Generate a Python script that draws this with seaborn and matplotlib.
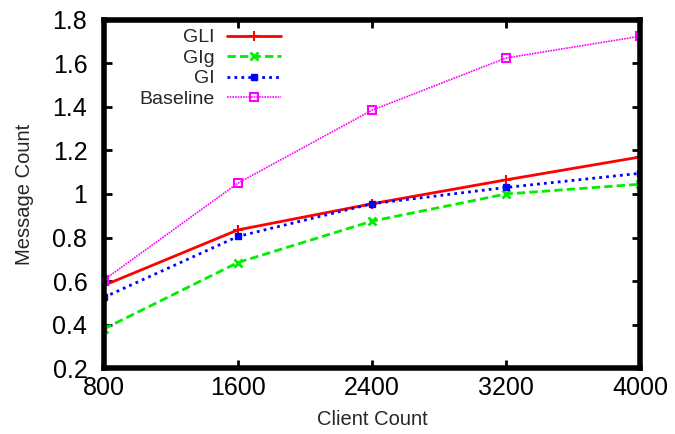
import matplotlib
matplotlib.use("Agg")
import matplotlib.pyplot as plt
import seaborn as sns
import pandas as pd

clients = [800, 1600, 2400, 3200, 4000]
gli = [0.58, 0.835, 0.955, 1.065, 1.17]
glg = [0.38, 0.685, 0.875, 1.0, 1.045]
gl = [0.525, 0.805, 0.955, 1.03, 1.095]
baseline = [0.605, 1.05, 1.385, 1.625, 1.725]
series_names = ["GLI", "GIg", "GI", "Baseline"]
x_ticks = [800, 1600, 2400, 3200, 4000]
y_ticks = [0.2, 0.4, 0.6, 0.8, 1.0, 1.2, 1.4, 1.6, 1.8]
y_tick_labels = ["0.2", "0.4", "0.6", "0.8", "1", "1.2", "1.4", "1.6", "1.8"]

rows = []
for name, vals in zip(series_names, [gli, glg, gl, baseline]):
    for c, v in zip(clients, vals):
        rows.append({"Client Count": c, "Message Count": v, "series": name})
df = pd.DataFrame(rows)

sns.set_theme(style="white")
plt.rcParams["font.family"] = ["Liberation Sans", "DejaVu Sans"]

fig = plt.figure(figsize=(6.75, 4.34), dpi=100)
ax = fig.add_axes([0.154, 0.152, 0.794, 0.802])

styles = {
    "GLI": dict(color="#ff0000", ls="-", marker="+", lw=2.0, ms=7, mew=1.5),
    "GIg": dict(color="#00ee00", ls=(0, (3, 1.5)), marker="x", lw=2.0, ms=6, mew=2),
    "GI": dict(color="#0000ff", ls=(0, (1, 1.5)), marker="s", lw=2.0, ms=5, mew=1),
    "Baseline": dict(color="#ff00ff", ls=(0, (1, 0.6)), marker="s", lw=1.2, ms=6, mew=1.5, mfc="none"),
}
for name in series_names:
    st = styles[name]
    sub = df[df["series"] == name]
    sns.lineplot(data=sub, x="Client Count", y="Message Count", ax=ax,
                 color=st["color"], linestyle=st["ls"], marker=st["marker"],
                 linewidth=st["lw"], markersize=st["ms"], markeredgewidth=st["mew"],
                 markeredgecolor=st["color"],
                 markerfacecolor=st.get("mfc", st["color"]), label=name)

ax.set_xlim(800, 4000)
ax.set_ylim(0.2, 1.8)
ax.set_xticks(x_ticks)
ax.set_xticklabels([str(t) for t in x_ticks], fontsize=18)
ax.set_yticks(y_ticks)
ax.set_yticklabels(y_tick_labels, fontsize=18)
ax.set_xlabel("Client Count", fontsize=14.5, labelpad=7)
ax.set_ylabel("Message Count", fontsize=14.5, labelpad=13)
ax.tick_params(direction="in", length=6, width=2, color="black",
               top=True, right=True, bottom=True, left=True, labelcolor="black")
ax.tick_params(axis="y", pad=12)
ax.tick_params(axis="x", pad=6)
for sp in ax.spines.values():
    sp.set_linewidth(4)
    sp.set_color("black")
ax.grid(False)

leg = ax.legend(loc="upper left", bbox_to_anchor=(0.04, 1.014), markerfirst=False,
                frameon=False, fontsize=14, handlelength=2.8, handletextpad=0.65,
                labelspacing=0.15, borderpad=0.2)
fig.savefig("out.png", dpi=100)
